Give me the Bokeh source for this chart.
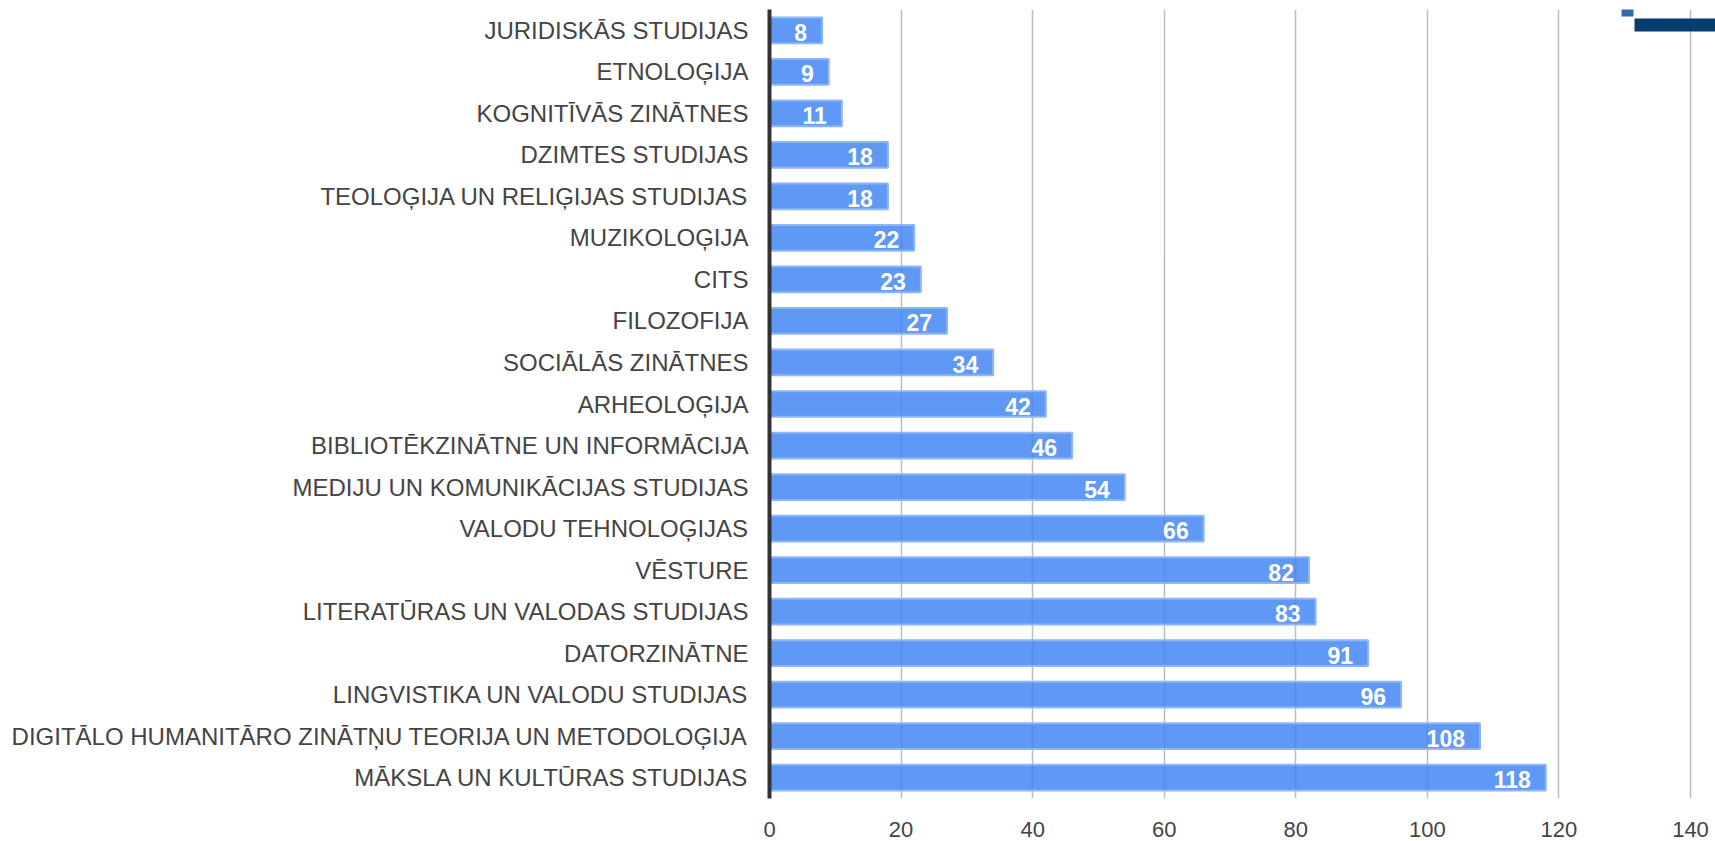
from bokeh.plotting import figure
from bokeh.models import ColumnDataSource, FactorRange, Range1d, FixedTicker, BoxAnnotation
from bokeh.core.properties import value
from bokeh.embed import file_html
from bokeh.resources import INLINE

categories = [
    "JURIDISKĀS STUDIJAS",
    "ETNOLOĢIJA",
    "KOGNITĪVĀS ZINĀTNES",
    "DZIMTES STUDIJAS",
    "TEOLOĢIJA UN RELIĢIJAS STUDIJAS",
    "MUZIKOLOĢIJA",
    "CITS",
    "FILOZOFIJA",
    "SOCIĀLĀS ZINĀTNES",
    "ARHEOLOĢIJA",
    "BIBLIOTĒKZINĀTNE UN INFORMĀCIJA",
    "MEDIJU UN KOMUNIKĀCIJAS STUDIJAS",
    "VALODU TEHNOLOĢIJAS",
    "VĒSTURE",
    "LITERATŪRAS UN VALODAS STUDIJAS",
    "DATORZINĀTNE",
    "LINGVISTIKA UN VALODU STUDIJAS",
    "DIGITĀLO HUMANITĀRO ZINĀTŅU TEORIJA UN METODOLOĢIJA",
    "MĀKSLA UN KULTŪRAS STUDIJAS",
]
counts = [8, 9, 11, 18, 18, 22, 23, 27, 34, 42, 46, 54, 66, 82, 83, 91, 96, 108, 118]
x_ticks = [0, 20, 40, 60, 80, 100, 120, 140]

FONT = "Liberation Sans"

src = ColumnDataSource(dict(cat=categories, val=counts, lab=[str(v) for v in counts]))

p = figure(
    width=1715, height=841,
    y_range=FactorRange(factors=list(reversed(categories)), range_padding=0),
    x_range=Range1d(0, 143.8),
    output_backend="svg", toolbar_location=None,
    min_border_left=769, min_border_right=0, min_border_top=9, min_border_bottom=43,
)
p.outline_line_color = None
p.background_fill_color = "white"

p.hbar(y="cat", right="val", left=0, height=0.62, source=src,
       fill_color="#3d82f3", fill_alpha=0.82,
       line_color="#8db5f7", line_width=2)

p.text(x="val", y="cat", text="lab", source=src,
       text_align="right", text_baseline="middle", x_offset=-15, y_offset=2,
       text_color="white", text_font_style="bold", text_font_size="23px",
       text_font=value(FONT))

p.xgrid.ticker = FixedTicker(ticks=x_ticks)
p.xgrid.grid_line_color = "#bdbdbd"
p.xgrid.grid_line_width = 1.5
p.xgrid.level = "underlay"
p.ygrid.grid_line_color = None

p.xaxis.ticker = FixedTicker(ticks=x_ticks)
p.xaxis.axis_line_color = None
p.xaxis.major_tick_line_color = None
p.xaxis.minor_tick_line_color = None
p.xaxis.major_label_text_font = FONT
p.xaxis.major_label_text_font_size = "22px"
p.xaxis.major_label_text_color = "#444444"
p.xaxis.major_label_standoff = 17

p.yaxis.axis_line_color = "#333333"
p.yaxis.axis_line_width = 4
p.yaxis.major_tick_line_color = None
p.yaxis.minor_tick_line_color = None
p.yaxis.major_label_text_font = FONT
p.yaxis.major_label_text_font_size = "24px"
p.yaxis.major_label_text_color = "#444444"
p.yaxis.major_label_standoff = 15

# logo fragment (decoration, top-right corner)
p.add_layout(BoxAnnotation(left=1621, right=1633, top=0, bottom=16,
                           left_units="canvas", right_units="canvas",
                           top_units="canvas", bottom_units="canvas",
                           fill_color="#2f6db3", fill_alpha=1, line_color=None,
                           level="overlay"))
p.add_layout(BoxAnnotation(left=1634, right=1715, top=18, bottom=31,
                           left_units="canvas", right_units="canvas",
                           top_units="canvas", bottom_units="canvas",
                           fill_color="#053e6e", fill_alpha=1, line_color=None,
                           level="overlay"))

open("out.html", "w").write(file_html(p, INLINE))
